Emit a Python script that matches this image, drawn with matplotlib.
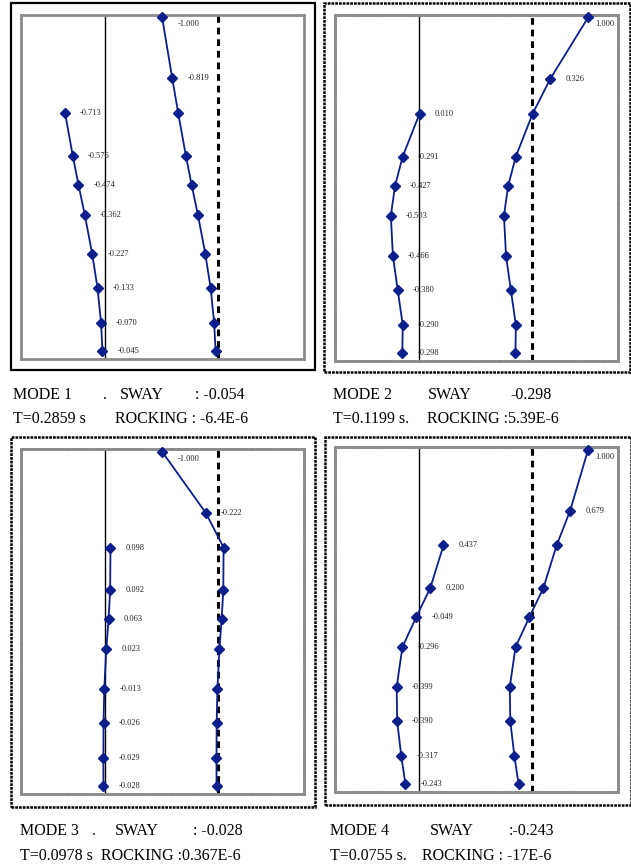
import matplotlib
matplotlib.use('Agg')
import matplotlib.pyplot as plt
from matplotlib.patches import Rectangle

W, H = 631, 865

# floor levels, top to bottom
levels = [9.93, 8.16, 7.15, 5.91, 5.07, 4.20, 3.04, 2.05, 1.04, 0.23]

mode1 = [-1.000, -0.819, -0.713, -0.576, -0.474, -0.362, -0.227, -0.133, -0.070, -0.045]
mode2 = [1.000, 0.326, 0.010, -0.291, -0.427, -0.503, -0.466, -0.380, -0.290, -0.298]
mode3 = [-1.000, -0.222, 0.098, 0.092, 0.063, 0.023, -0.013, -0.026, -0.029, -0.028]
mode4 = [1.000, 0.679, 0.437, 0.200, -0.049, -0.296, -0.399, -0.390, -0.317, -0.243]
modes = [mode1, mode2, mode3, mode4]

cap_row1 = [["MODE 1", ".", "SWAY", ": -0.054"],
            ["MODE 2", "SWAY", "-0.298"],
            ["MODE 3", ".", "SWAY", ": -0.028"],
            ["MODE 4", "SWAY", ":-0.243"]]
cap_row2 = [["T=0.2859 s", "ROCKING : -6.4E-6"],
            ["T=0.1199 s.", "ROCKING :5.39E-6"],
            ["T=0.0978 s", "ROCKING :0.367E-6"],
            ["T=0.0755 s.", "ROCKING : -17E-6"]]

# layout in pixels (left, top, right, bottom)
inner = [(21, 15, 304, 359), (335, 15, 617.7, 361),
         (21, 449.3, 304, 794), (335, 447.3, 617.7, 791.7)]
outer = [(11, 3, 315, 370), (324, 3.3, 630, 371.7),
         (11, 437.3, 315.3, 806.7), (325, 437.3, 630.7, 805)]
row1_x = [[13.3, 103, 120, 195], [333.3, 428.3, 510],
          [20, 91.7, 115, 193.3], [330, 430, 508.3]]
row2_x = [[13.3, 115], [333.3, 426.7], [20, 101], [330, 421.7]]
base_y = [(399, 423.5), (399, 423.5), (835, 859.5), (835, 859.5)]

shift = 2.02
blue = '#0a1e8c'
serif = 'Liberation Serif'

fig = plt.figure(figsize=(W / 100, H / 100), dpi=100)

for i in range(4):
    l, t, r, b = inner[i]
    ax = fig.add_axes([l / W, 1 - b / H, (r - l) / W, (b - t) / H])
    ax.set_xlim(-1.5, -1.5 + (r - l) / 56.0)
    ax.set_ylim(0, 10.0)
    ax.set_xticks([])
    ax.set_yticks([])
    for s in ax.spines.values():
        s.set_color('#8c8c8c')
        s.set_linewidth(2.0)
        if i > 0:
            s.set_linestyle((0, (0.9, 0.35)))

    ax.axvline(0, color='black', lw=1.0, zorder=1)
    ax.axvline(shift, color='black', lw=2.2, ls=(0, (2.2, 1.6)), zorder=1)

    vals = modes[i]
    ax.plot(vals[2:], levels[2:], color=blue, lw=1.3, marker='D', ms=5,
            zorder=3, clip_on=False)
    ax.plot([v + shift for v in vals], levels, color=blue, lw=1.3, marker='D',
            ms=5, zorder=3, clip_on=False)

    for k, v in enumerate(vals):
        if k < 2:
            x = v + shift
        else:
            x = v
        dx, dy = 15, 0
        if k == 0:
            dx = 7 if v > 0 else 16
            dy = -7
        ax.annotate('%.3f' % v, (x, levels[k]), xytext=(dx, dy),
                    textcoords='offset pixels', ha='left', va='center',
                    fontsize=6, family=serif, color='#222222', zorder=4)

    ol, ot, orr, ob = outer[i]
    if i == 0:
        box = Rectangle((ol / W, 1 - ob / H), (orr - ol) / W, (ob - ot) / H,
                        transform=fig.transFigure, fill=False, ec='black', lw=1.6)
    else:
        box = Rectangle((ol / W, 1 - ob / H), (orr - ol) / W, (ob - ot) / H,
                        transform=fig.transFigure, fill=False, ec='black', lw=1.8,
                        ls=(0, (1.1, 0.4)))
    fig.add_artist(box)

    y1, y2 = base_y[i]
    for txt, x in zip(cap_row1[i], row1_x[i]):
        fig.text(x / W, 1 - y1 / H, txt, fontsize=11.5, family=serif,
                 va='baseline', ha='left')
    for txt, x in zip(cap_row2[i], row2_x[i]):
        fig.text(x / W, 1 - y2 / H, txt, fontsize=11.5, family=serif,
                 va='baseline', ha='left')

fig.savefig('out.png', dpi=100)
